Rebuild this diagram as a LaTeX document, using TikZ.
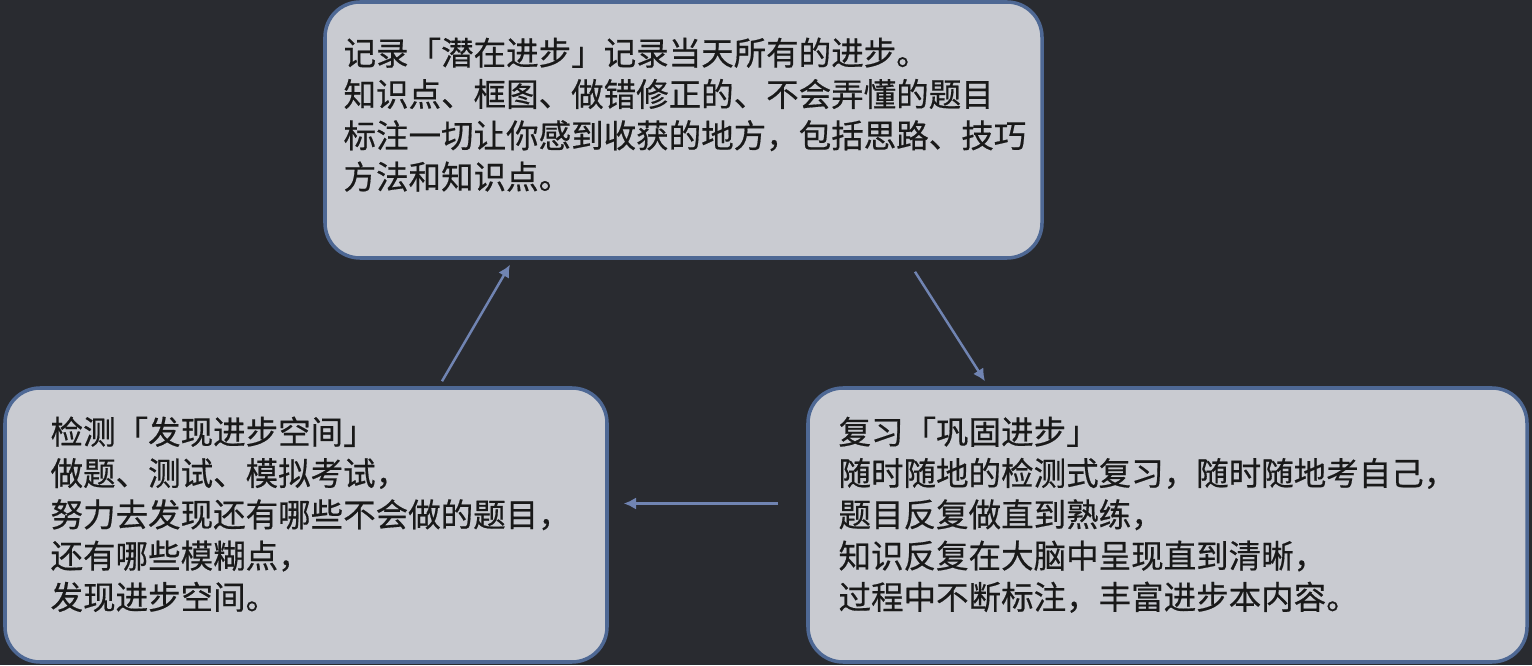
\documentclass[tikz,border=0pt]{standalone}
\usepackage{fontspec}
\newfontfamily\cjk[FakeBold=0.5]{Noto Sans CJK SC}
\usepackage{tikz}
\usetikzlibrary{arrows.meta}

\definecolor{bgdark}{RGB}{41,43,48}
\definecolor{boxfill}{RGB}{201,203,209}
\definecolor{boxline}{RGB}{78,104,148}
\definecolor{flowline}{RGB}{112,132,178}

\tikzset{
    stagebox/.style={draw=boxline, line width=2pt, fill=boxfill,
        rounded corners=0.7cm, inner sep=0pt},
    stagetext/.style={anchor=north west, inner sep=0pt, align=left,
        text=black!90, font=\cjk\fontsize{18.5pt}{23.5pt}\selectfont},
    flow/.style={draw=flowline, line width=1.4pt,
        -{Latex[length=7pt,width=7pt]}}
}

\begin{document}
\begin{tikzpicture}

% background
\fill[bgdark] (0,0) rectangle (30.64,13.3);
\useasboundingbox (0,0) rectangle (30.64,13.3);

% Boxes
\node[stagebox, minimum width=14.34cm, minimum height=5.12cm] (record) at (13.67,10.7) {};
\node[stagebox, minimum width=12.04cm, minimum height=5.48cm] (test) at (6.12,2.8) {};
\node[stagebox, minimum width=14.38cm, minimum height=5.48cm] (review) at (23.35,2.8) {};

% Texts
\node[stagetext] (recordText) at ([shift={(0.4cm,-0.74cm)}]record.north west)
    {记录「潜在进步」记录当天所有的进步。\\
     知识点、框图、做错修正的、不会弄懂的题目\\
     标注一切让你感到收获的地方，包括思路、技巧\\
     方法和知识点。};
\node[stagetext] (testText) at ([shift={(0.94cm,-0.6cm)}]test.north west)
    {检测「发现进步空间」\\
     做题、测试、模拟考试，\\
     努力去发现还有哪些不会做的题目，\\
     还有哪些模糊点，\\
     发现进步空间。};
\node[stagetext] (reviewText) at ([shift={(0.64cm,-0.6cm)}]review.north west)
    {复习「巩固进步」\\
     随时随地的检测式复习，随时随地考自己，\\
     题目反复做直到熟练，\\
     知识反复在大脑中呈现直到清晰，\\
     过程中不断标注，丰富进步本内容。};

% Arrows
\draw[flow] ([xshift=2.72cm,yshift=0.1cm]test.north) -- ([xshift=-3.47cm,yshift=-0.1cm]record.south);
\draw[flow] ([xshift=4.63cm,yshift=-0.24cm]record.south) -- ([xshift=-3.65cm,yshift=0.1cm]review.north);
\draw[flow] ([xshift=-0.56cm,yshift=0.43cm]review.west) -- ([xshift=0.3cm,yshift=0.43cm]test.east);

\end{tikzpicture}
\end{document}
